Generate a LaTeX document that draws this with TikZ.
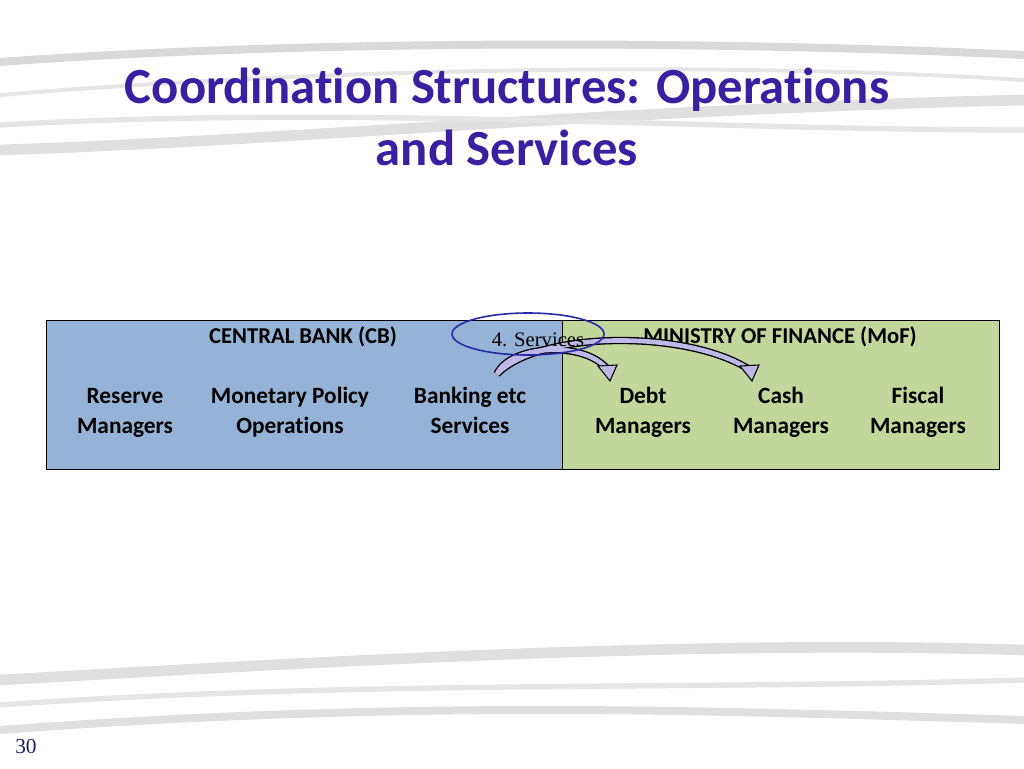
\documentclass[tikz,border=0pt]{standalone}
\usepackage{fontspec}
\setmainfont{Carlito}[Ligatures=NoCommon]
\newfontfamily\tms{Liberation Serif}
\begin{document}
\begin{tikzpicture}[x=0.75pt,y=-0.75pt,
  lbl/.style={font=\fontsize{17.5}{23}\selectfont\bfseries,align=center,text=black,anchor=north},
  hdr/.style={font=\fontsize{17}{20}\selectfont\bfseries,text=black},
  swoosh/.style={draw=gray!30,line width=#1},
  barrow/.style={line width=5.5pt,draw=black},
  barrowin/.style={line width=3.5pt,draw={rgb,255:red,190;green,185;blue,230}}]
\useasboundingbox (0,0) rectangle (1024,768);
% background swooshes
\draw[swoosh=6pt] (0,62) .. controls (300,40) and (700,40) .. (1024,55);
\draw[swoosh=3pt,gray!20] (0,95) .. controls (300,70) and (700,60) .. (1024,80);
\draw[swoosh=8pt,gray!25] (0,150) .. controls (300,140) and (600,110) .. (1024,100);
\draw[swoosh=4pt,gray!20] (0,125) .. controls (350,105) and (700,130) .. (1024,130);
\draw[swoosh=8pt,gray!25] (0,680) .. controls (350,660) and (700,640) .. (1024,650);
\draw[swoosh=4pt,gray!20] (0,705) .. controls (350,680) and (700,690) .. (1024,680);
\draw[swoosh=6pt,gray!25] (0,730) .. controls (400,700) and (700,710) .. (1024,720);
\node[font=\fontsize{38}{46}\selectfont\bfseries,text={rgb,255:red,58;green,31;blue,160},align=center] (title) at (507,117) {Coordination Structures: Operations\\and Services};
% boxes
\draw[fill={rgb,255:red,149;green,179;blue,215}] (46,320) rectangle (562,469);
\draw[fill={rgb,255:red,195;green,214;blue,155}] (562,320) rectangle (999,469);
\node[hdr] (cb) at (303,337) {CENTRAL BANK (CB)};
\node[hdr] (mof) at (780,337) {MINISTRY OF FINANCE (MoF)};
\node[lbl] (res) at (125,377) {\strut Reserve\\\strut Managers};
\node[lbl] (mon) at (290,377) {\strut Monetary Policy\\\strut Operations};
\node[lbl] (bank) at (470,377) {\strut Banking etc\\\strut Services};
\node[lbl] (debt) at (643,377) {\strut Debt\\\strut Managers};
\node[lbl] (cash) at (781,377) {\strut Cash\\\strut Managers};
\node[lbl] (fisc) at (918,377) {\strut Fiscal\\\strut Managers};
% arrows
\coordinate (s) at (497,374);
\coordinate (d) at (608,370);
\coordinate (c) at (750,370);
\draw[barrow] (s) .. controls (510,345) and (585,340) .. (d);
\draw[barrow] (s) .. controls (540,330) and (690,330) .. (c);
\draw[barrowin] (s) .. controls (510,345) and (585,340) .. (d);
\draw[barrowin] (s) .. controls (540,330) and (690,330) .. (c);
\draw[black,fill={rgb,255:red,190;green,185;blue,230},line width=0.8pt] (598,366) -- (617,365) -- (610,381) -- cycle;
\draw[black,fill={rgb,255:red,190;green,185;blue,230},line width=0.8pt] (740,366) -- (759,365) -- (752,381) -- cycle;
% ellipse & label
\node[font=\tms\fontsize{15.5}{18}\selectfont] (svc) at (538,340) {4. Services};
\draw[draw={rgb,255:red,40;green,40;blue,170},line width=1.2pt] (528,334) ellipse [x radius=76,y radius=21];
\node[font=\tms\fontsize{16}{18}\selectfont,text={rgb,255:red,30;green,30;blue,100}] (pg) at (26,746) {30};
\end{tikzpicture}
\end{document}
